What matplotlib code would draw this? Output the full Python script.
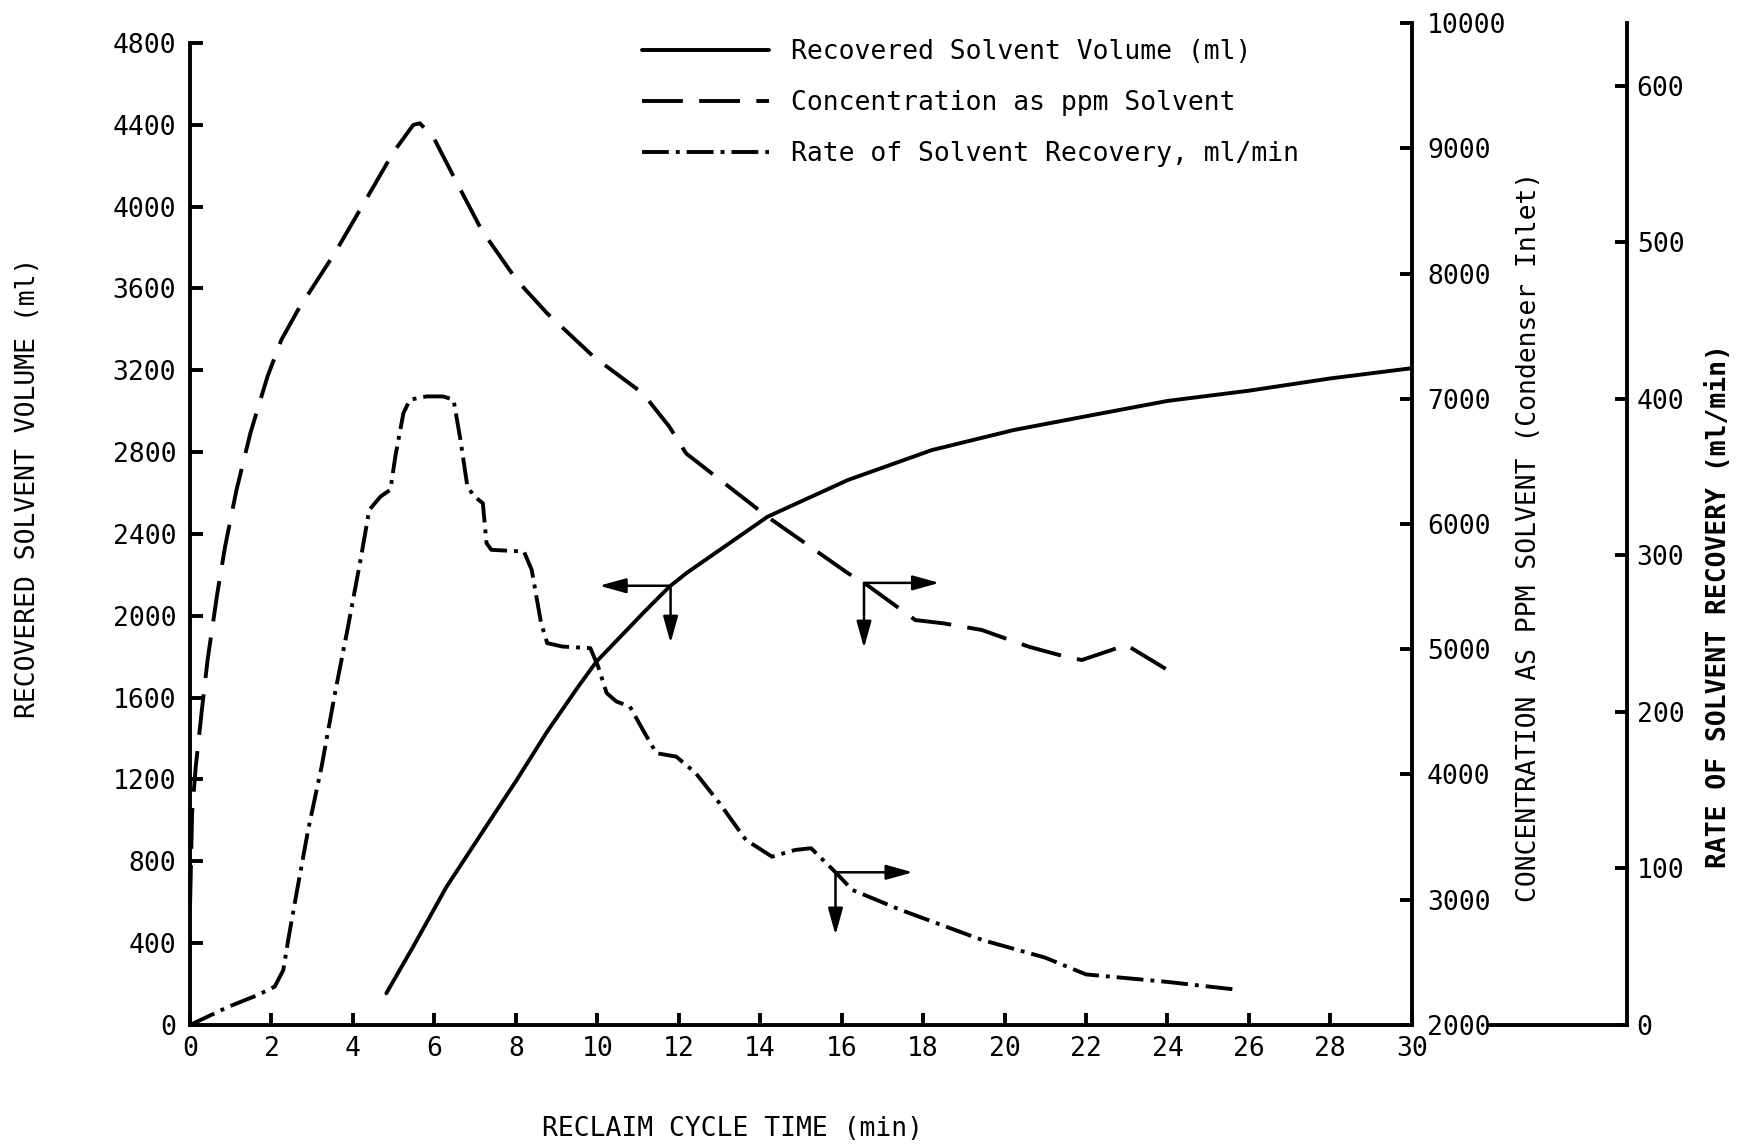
import matplotlib.pyplot as plt
import numpy as np

plt.rcParams['font.family'] = 'DejaVu Sans Mono'
plt.rcParams['font.size'] = 19

# Recovered solvent volume (ml), left axis
time_vol = [4.82, 5.48, 6.30, 7.16, 8.02, 8.77, 9.53, 9.98, 11.12, 11.77, 12.2,
            14.18, 16.16, 18.22, 20.23, 22.0, 24.0, 26.0, 28.0, 30.0]
volume_ml = [155, 383, 676, 937, 1197, 1434, 1653, 1776, 2012, 2142, 2210,
             2484, 2664, 2810, 2908, 2975, 3050, 3100, 3160, 3210]

# Concentration as ppm solvent, first right axis
time_conc = [0.0, 0.05, 0.14, 0.29, 0.43, 0.67, 0.86, 1.14, 1.48, 1.90, 2.24, 2.65,
             3.55, 4.36, 5.0, 5.48, 5.64, 5.97, 6.56, 7.16, 8.02, 8.77, 9.91, 11.12,
             11.77, 12.18, 14.18, 16.16, 16.57, 17.81, 18.5, 19.44, 20.6, 21.5, 21.9,
             22.99, 24.14]
conc_ppm = [2950, 3690, 4062, 4515, 4914, 5447, 5819, 6271, 6724, 7176, 7469, 7709,
            8161, 8613, 8972, 9186, 9200, 9092, 8720, 8347, 7948, 7682, 7336, 7043,
            6777, 6564, 6058, 5606, 5526, 5233, 5207, 5154, 5020, 4940, 4914,
            5034, 4808]

# Rate of solvent recovery (ml/min), second right axis
time_rate = [0.0, 0.95, 1.67, 2.08, 2.29, 2.41, 2.63, 2.9, 3.23, 3.56, 3.88, 4.2,
             4.40, 4.68, 4.92, 5.04, 5.24, 5.40, 5.80, 6.21, 6.47, 6.64, 6.81, 6.98,
             7.19, 7.28, 7.40, 8.2, 8.39, 8.62, 8.77, 9.15, 9.83, 10.02, 10.23, 10.47,
             10.8, 11.12, 11.45, 11.94, 12.42, 13.0, 13.65, 14.29, 14.86, 15.25, 15.87,
             16.26, 17.45, 19.45, 21.0, 22.0, 24.0, 25.75]
rate_ml_min = [0, 11.7, 19.2, 24.5, 35.1, 54.3, 86.3, 124.6, 165, 212, 254.5, 299,
               329, 337.6, 341.9, 363, 390.9, 399.4, 401.5, 401.5, 399.4, 373.8, 344, 337.6,
               333.3, 307.8, 303.5, 302.4, 290.7, 256.7, 243.9, 241.7, 240.7, 229, 212, 206.6,
               203.4, 188.5, 173.6, 171.4, 160.8, 141.7, 118.2, 107.5, 111.8, 112.9, 97,
               86.3, 73.5, 54.3, 43, 32.3, 27.5, 22.4]

x_ticks = list(range(0, 31, 2))
vol_ticks = list(range(0, 4801, 400))
conc_ticks = list(range(2000, 10001, 1000))
rate_ticks = list(range(0, 601, 100))

labels = ['Recovered Solvent Volume (ml)',
          'Concentration as ppm Solvent',
          'Rate of Solvent Recovery, ml/min']

lw = 2.8
spine_w = 2.8

fig = plt.figure(figsize=(17.5, 11.47), dpi=100)
ax = fig.add_axes([0.1086, 0.1064, 0.6981, 0.8735])
ax2 = ax.twinx()
ax_r = ax.twinx()

ax.set_xlim(0, 30)
ax.set_ylim(0, 4897)
ax2.set_ylim(2000, 10000)
ax_r.set_ylim(0, 640)

l1, = ax.plot(time_vol, volume_ml, color='black', lw=lw, solid_capstyle='round')
l2, = ax2.plot(time_conc, conc_ppm, color='black', lw=lw, linestyle=(0, (10.5, 4.2)))
l3, = ax_r.plot(time_rate, rate_ml_min, color='black', lw=lw,
                linestyle=(0, (6.9, 1.8, 1.0, 1.8)))

# main axis styling
for s in ['top', 'right']:
    ax.spines[s].set_visible(False)
ax.spines['left'].set_bounds(0, 4800)
for s in ['left', 'bottom']:
    ax.spines[s].set_linewidth(spine_w)
ax.set_xticks(x_ticks)
ax.set_yticks(vol_ticks)
ax.tick_params(axis='both', direction='in', length=9, width=spine_w)
ax.tick_params(axis='y', pad=10)
ax.tick_params(axis='x', pad=8)

for s in ['top', 'left', 'bottom']:
    ax2.spines[s].set_visible(False)
ax2.spines['right'].set_linewidth(spine_w)
ax2.set_yticks(conc_ticks)
ax2.tick_params(axis='y', direction='in', length=9, width=spine_w, pad=11)

ax_r.axis('off')

# separate rate axis
ax3 = fig.add_axes([0.8514, 0.1064, 0.0783, 0.8735])
ax3.set_ylim(0, 640)
ax3.set_xlim(0, 1)
for s in ['top', 'left']:
    ax3.spines[s].set_visible(False)
ax3.spines['right'].set_linewidth(spine_w)
ax3.spines['bottom'].set_linewidth(spine_w)
ax3.patch.set_visible(False)
ax3.set_xticks([])
ax3.yaxis.tick_right()
ax3.set_yticks(rate_ticks)
ax3.tick_params(axis='y', direction='in', length=9, width=spine_w, pad=7)

# arrows pointing to the axis each curve uses
arr_x = 11.8
y0 = np.interp(arr_x, time_vol, volume_ml)
ap = dict(arrowstyle='-|>,head_length=0.9,head_width=0.25', color='black', lw=1.8,
          mutation_scale=18, shrinkA=0, shrinkB=0)
ax.annotate('', xy=(10.05, y0), xytext=(arr_x, y0), arrowprops=ap)
ax.annotate('', xy=(arr_x, y0 - 280), xytext=(arr_x, y0), arrowprops=ap)

arr_x = 16.55
y0 = np.interp(arr_x, time_conc, conc_ppm)
ax2.annotate('', xy=(18.4, y0), xytext=(arr_x, y0), arrowprops=ap)
ax2.annotate('', xy=(arr_x, y0 - 520), xytext=(arr_x, y0), arrowprops=ap)

arr_x = 15.85
y0 = np.interp(arr_x, time_rate, rate_ml_min)
ax_r.annotate('', xy=(17.75, y0), xytext=(arr_x, y0), arrowprops=ap)
ax_r.annotate('', xy=(arr_x, y0 - 40), xytext=(arr_x, y0), arrowprops=ap)

fig.legend([l1, l2, l3], labels, loc='upper left', bbox_to_anchor=(0.3669, 0.966),
           frameon=False, handlelength=4.8, handletextpad=0.85, labelspacing=0.95,
           borderpad=0, borderaxespad=0)

fig.text(28 / 1750, 1 - 488 / 1147, 'RECOVERED SOLVENT VOLUME (ml)', rotation=90,
         ha='center', va='center')
fig.text(733 / 1750, 1 - 1129.5 / 1147, 'RECLAIM CYCLE TIME (min)', ha='center', va='center')
fig.text(1529 / 1750, 1 - 537 / 1147, 'CONCENTRATION AS PPM SOLVENT (Condenser Inlet)',
         rotation=90, ha='center', va='center')
fig.text(1719 / 1750, 1 - 606 / 1147, 'RATE OF SOLVENT RECOVERY (ml/min)', rotation=90,
         ha='center', va='center', fontweight='bold')

fig.savefig('out.png', dpi=100)
